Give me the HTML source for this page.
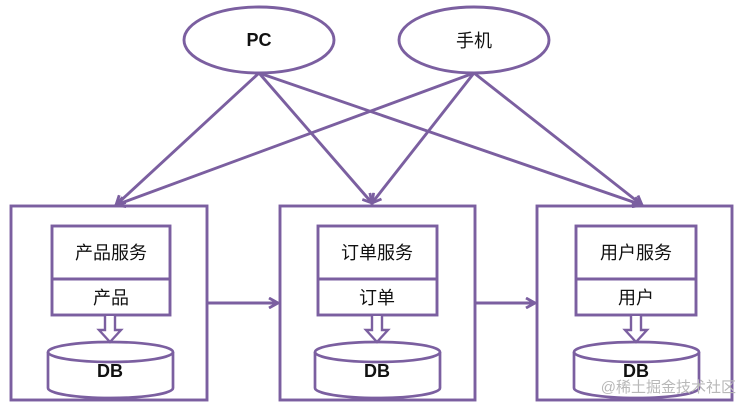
<!DOCTYPE html>
<html><head><meta charset="utf-8"><style>
html,body{margin:0;padding:0;background:#fff;}
svg{display:block;}
text{font-family:"Liberation Sans","Noto Sans CJK SC",sans-serif;fill:#111;}
</style></head><body>
<svg width="744" height="410" viewBox="0 0 744 410" xmlns="http://www.w3.org/2000/svg">
<defs>
<marker id="ah" markerWidth="12" markerHeight="12" refX="10" refY="6" orient="auto" markerUnits="userSpaceOnUse">
<path d="M1,1 L10,6 L1,11" fill="none" stroke="#7b5fa0" stroke-width="2.8"/>
</marker>
</defs>
<g stroke="#7b5fa0" stroke-width="2.9" fill="none">
<ellipse cx="259" cy="40" rx="75" ry="33" fill="#fff"/>
<ellipse cx="474" cy="40" rx="75" ry="33" fill="#fff"/>
<line x1="259" y1="73" x2="116" y2="205" marker-end="url(#ah)"/>
<line x1="259" y1="73" x2="372" y2="203" marker-end="url(#ah)"/>
<line x1="259" y1="73" x2="642" y2="205" marker-end="url(#ah)"/>
<line x1="474" y1="73" x2="116" y2="205" marker-end="url(#ah)"/>
<line x1="474" y1="73" x2="372" y2="203" marker-end="url(#ah)"/>
<line x1="474" y1="73" x2="642" y2="205" marker-end="url(#ah)"/>
<line x1="207" y1="303" x2="278" y2="303" marker-end="url(#ah)"/>
<line x1="475" y1="303" x2="535" y2="303" marker-end="url(#ah)"/>
<rect x="11" y="206" width="196" height="194"/>
<rect x="280" y="206" width="195" height="194"/>
<rect x="537" y="206" width="195" height="194"/>
</g>
<g stroke="#7b5fa0" stroke-width="2.9" fill="#fff">
<rect x="52" y="226" width="118" height="89"/><line x1="52" y1="279" x2="170" y2="279"/>
<rect x="318" y="226" width="119" height="89"/><line x1="318" y1="279" x2="437" y2="279"/>
<rect x="576" y="226" width="120" height="89"/><line x1="576" y1="279" x2="696" y2="279"/>
</g>
<g stroke="#7b5fa0" stroke-width="2.7" fill="#fff">
<path d="M48,352 L48,388 A62.5,10 0 0 0 173,388 L173,352"/>
<ellipse cx="110.5" cy="352" rx="62.5" ry="10"/>
<path d="M315,352 L315,388 A62.5,10 0 0 0 440,388 L440,352"/>
<ellipse cx="377.5" cy="352" rx="62.5" ry="10"/>
<path d="M574,352 L574,388 A62.5,10 0 0 0 699,388 L699,352"/>
<ellipse cx="636.5" cy="352" rx="62.5" ry="10"/>
</g>
<g stroke="#7b5fa0" stroke-width="2.4" fill="#fff">
<path d="M105,316 L105,330 L99,330 L110,342 L121,330 L115,330 L115,316"/>
<path d="M372,316 L372,330 L366,330 L377,342 L388,330 L382,330 L382,316"/>
<path d="M631,316 L631,330 L625,330 L636,342 L647,330 L641,330 L641,316"/>
</g>
<g font-size="18" text-anchor="middle">
<text x="259" y="46" font-weight="bold">PC</text>
<text x="474" y="47">手机</text>
<text x="111" y="259">产品服务</text>
<text x="111" y="304">产品</text>
<text x="377" y="259">订单服务</text>
<text x="377" y="304">订单</text>
<text x="636" y="259">用户服务</text>
<text x="636" y="304">用户</text>
<text x="110" y="377" font-weight="bold">DB</text>
<text x="377" y="377" font-weight="bold">DB</text>
<text x="636" y="377" font-weight="bold">DB</text>
</g>
<text x="736" y="392" font-size="15" text-anchor="end" style="fill:#b8b8b8">@稀土掘金技术社区</text>
</svg>
</body></html>
